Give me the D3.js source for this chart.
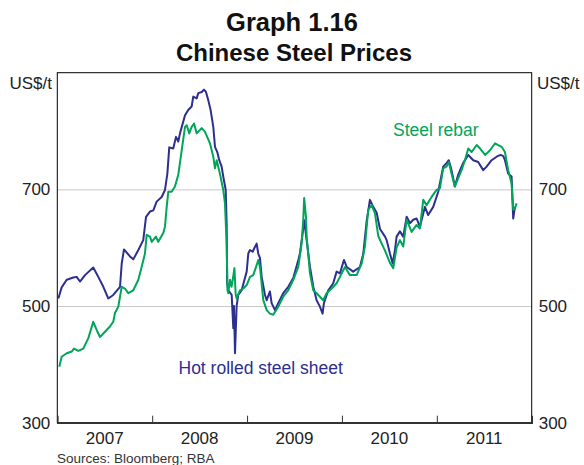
<!DOCTYPE html>
<html>
<head>
<meta charset="utf-8">
<script src="https://cdn.jsdelivr.net/npm/d3@7"></script>
<style>
  html, body { margin: 0; padding: 0; background: #fff; }
  svg { display: block; font-family: Arial, "Liberation Sans", Helvetica, sans-serif; }
</style>
</head>
<body>
<svg id="chart" width="584" height="465"></svg>
<script>
// ---- Data (decimal year, US$/t) ----
const hotTimes = [2007.011,2007.046,2007.099,2007.169,2007.204,2007.239,2007.292,2007.379,2007.432,2007.485,2007.537,2007.590,2007.661,2007.679,2007.703,2007.766,2007.801,2007.854,2007.906,2007.935,2007.977,2008.012,2008.047,2008.100,2008.135,2008.160,2008.180,2008.222,2008.251,2008.275,2008.293,2008.346,2008.380,2008.416,2008.433,2008.469,2008.486,2008.522,2008.546,2008.567,2008.591,2008.616,2008.644,2008.662,2008.686,2008.707,2008.732,2008.749,2008.775,2008.785,2008.790,2008.802,2008.838,2008.855,2008.862,2008.873,2008.890,2008.907,2008.943,2008.996,2009.013,2009.031,2009.059,2009.076,2009.101,2009.118,2009.136,2009.154,2009.189,2009.207,2009.241,2009.259,2009.294,2009.329,2009.381,2009.434,2009.487,2009.540,2009.557,2009.586,2009.603,2009.628,2009.663,2009.698,2009.733,2009.768,2009.796,2009.810,2009.856,2009.908,2009.944,2009.979,2010.021,2010.050,2010.119,2010.190,2010.225,2010.260,2010.295,2010.330,2010.366,2010.401,2010.454,2010.471,2010.506,2010.535,2010.559,2010.576,2010.611,2010.646,2010.682,2010.717,2010.751,2010.787,2010.822,2010.875,2010.909,2010.962,2011.015,2011.067,2011.102,2011.126,2011.155,2011.190,2011.225,2011.261,2011.277,2011.331,2011.384,2011.436,2011.489,2011.525,2011.577,2011.630,2011.672,2011.700,2011.718,2011.752,2011.788,2011.805,2011.823];
const hotValues = [513,532,545,549,550,542,553,566,550,533,513,519,533,573,597,585,580,596,613,653,662,664,679,687,699,727,772,770,790,782,796,827,836,842,859,856,865,867,871,867,853,836,807,773,764,750,739,722,699,640,540,527,519,462,500,419,500,519,527,559,590,596,593,599,607,590,582,550,519,510,525,505,493,505,522,533,548,579,590,625,647,613,567,533,510,499,487,505,527,539,559,556,579,567,559,567,590,645,682,670,660,632,619,613,590,573,596,619,628,619,653,642,648,650,636,670,656,670,696,739,745,750,733,705,725,739,745,759,750,747,733,739,750,756,759,757,750,727,722,650,670];

const rebarTimes = [2007.021,2007.046,2007.099,2007.152,2007.176,2007.221,2007.274,2007.327,2007.379,2007.415,2007.450,2007.503,2007.555,2007.590,2007.608,2007.643,2007.679,2007.713,2007.748,2007.801,2007.854,2007.889,2007.924,2007.942,2007.977,2007.995,2008.040,2008.064,2008.117,2008.135,2008.153,2008.170,2008.205,2008.240,2008.275,2008.311,2008.346,2008.364,2008.391,2008.416,2008.441,2008.469,2008.522,2008.556,2008.609,2008.644,2008.662,2008.680,2008.714,2008.749,2008.767,2008.785,2008.794,2008.802,2008.820,2008.836,2008.849,2008.867,2008.880,2008.890,2008.925,2008.960,2008.996,2009.031,2009.065,2009.101,2009.118,2009.136,2009.171,2009.207,2009.241,2009.276,2009.329,2009.381,2009.434,2009.487,2009.540,2009.575,2009.592,2009.602,2009.621,2009.628,2009.663,2009.698,2009.733,2009.768,2009.803,2009.838,2009.891,2009.944,2009.979,2010.032,2010.084,2010.155,2010.208,2010.242,2010.277,2010.313,2010.348,2010.383,2010.419,2010.454,2010.506,2010.541,2010.576,2010.611,2010.646,2010.682,2010.734,2010.787,2010.822,2010.857,2010.892,2010.945,2010.998,2011.033,2011.067,2011.102,2011.126,2011.155,2011.190,2011.225,2011.261,2011.296,2011.331,2011.367,2011.420,2011.456,2011.509,2011.561,2011.614,2011.647,2011.683,2011.718,2011.752,2011.788,2011.805,2011.823,2011.841];
const rebarValues = [396,413,419,422,427,423,427,445,473,459,447,456,465,473,488,499,533,530,522,527,545,567,590,622,619,610,619,610,625,636,670,696,696,705,725,767,807,810,796,807,813,796,805,799,779,756,736,750,727,699,676,607,527,522,545,533,545,565,520,513,527,530,536,550,553,570,579,567,510,493,487,485,499,516,527,545,567,607,647,685,653,619,556,527,522,516,510,522,530,539,550,567,553,553,573,602,665,673,659,620,607,595,574,565,600,613,602,648,627,639,633,682,673,687,699,702,736,739,747,727,705,719,733,750,770,764,776,770,759,767,779,776,773,764,733,710,665,667,676];

const yearLabels = ["2007","2008","2009","2010","2011"];
const yearBoundaries = [2008, 2009, 2010, 2011];
const yTickValues = [300, 500, 700];
const gridValues = [500, 700];
const seriesNames = ["Hot rolled steel sheet", "Steel rebar"];

// ---- Layout ----
const svg = d3.select("#chart");
const plotL = 57.3, plotR = 531.7, plotT = 72.7, plotB = 422.7;
const x = d3.scaleLinear().domain([2007, 2012]).range([plotL, plotR]);
const y = d3.scaleLinear().domain([300, 900]).range([plotB, plotT]);

const blue = "#2d2f8f";
const green = "#00a55a";
const fontSize = 17;

// Titles
svg.append("text").attr("x", 292).attr("y", 31).attr("text-anchor", "middle")
  .attr("font-weight", "bold").attr("font-size", 25.5).attr("fill", "#111").text("Graph 1.16");
svg.append("text").attr("x", 294).attr("y", 61).attr("text-anchor", "middle")
  .attr("font-weight", "bold").attr("font-size", 24).attr("fill", "#111").text("Chinese Steel Prices");

// Gridlines
const grid = svg.append("g").attr("transform", `translate(${plotL},0)`)
  .call(d3.axisRight(y).tickValues(gridValues).tickSize(plotR - plotL).tickFormat(""));
grid.select(".domain").remove();
grid.selectAll("line").attr("stroke", "#c8c8c8").attr("stroke-width", 1);

// Frame
svg.append("rect").attr("x", plotL).attr("y", plotT).attr("width", plotR - plotL).attr("height", plotB - plotT)
  .attr("fill", "none").attr("stroke", "#000").attr("stroke-width", 1);

// Bottom axis ticks (inward)
const xAxis = svg.append("g").attr("transform", `translate(0,${plotB})`)
  .call(d3.axisBottom(x).tickValues(yearBoundaries).tickSize(-7).tickFormat(""));
xAxis.select(".domain").attr("stroke", "#333").attr("stroke-width", 1.6);
xAxis.selectAll(".tick line").attr("stroke", "#333").attr("stroke-width", 1);

// Year labels centered in each year
svg.append("g").selectAll("text").data(yearLabels).join("text")
  .attr("x", d => x(+d + 0.5)).attr("y", 443.5).attr("text-anchor", "middle")
  .attr("font-size", fontSize).attr("fill", "#222").text(d => d);

// Y axes
const yl = svg.append("g").attr("transform", `translate(${plotL},0)`)
  .call(d3.axisLeft(y).tickValues(yTickValues).tickSize(0).tickPadding(7).tickFormat(d3.format("d")));
yl.select(".domain").remove();
yl.attr("font-family", null).attr("font-size", fontSize);
yl.selectAll("text").attr("fill", "#222");
const yr = svg.append("g").attr("transform", `translate(${plotR},0)`)
  .call(d3.axisRight(y).tickValues(yTickValues).tickSize(0).tickPadding(7).tickFormat(d3.format("d")));
yr.select(".domain").remove();
yr.attr("font-family", null).attr("font-size", fontSize);
yr.selectAll("text").attr("fill", "#222");

// Units
svg.append("text").attr("x", 52).attr("y", 88.5).attr("text-anchor", "end")
  .attr("font-size", fontSize).attr("fill", "#222").text("US$/t");
svg.append("text").attr("x", 537).attr("y", 88.5).attr("text-anchor", "start")
  .attr("font-size", fontSize).attr("fill", "#222").text("US$/t");

// Lines
const line = d3.line().x(d => x(d[0])).y(d => y(d[1]));
const hot = d3.zip(hotTimes, hotValues);
const rebar = d3.zip(rebarTimes, rebarValues);
svg.append("path").datum(hot).attr("d", line).attr("fill", "none")
  .attr("stroke", blue).attr("stroke-width", 2).attr("stroke-linejoin", "round");
svg.append("path").datum(rebar).attr("d", line).attr("fill", "none")
  .attr("stroke", green).attr("stroke-width", 2).attr("stroke-linejoin", "round");

// Series labels
svg.append("text").attr("x", 178.5).attr("y", 374).attr("font-size", 17.5).attr("fill", blue).text(seriesNames[0]);
svg.append("text").attr("x", 393).attr("y", 136).attr("font-size", 17.5).attr("fill", green).text(seriesNames[1]);

// Sources
svg.append("text").attr("x", 57).attr("y", 463).attr("font-size", 13.5).attr("fill", "#333").text("Sources: Bloomberg; RBA");
</script>
</body>
</html>
